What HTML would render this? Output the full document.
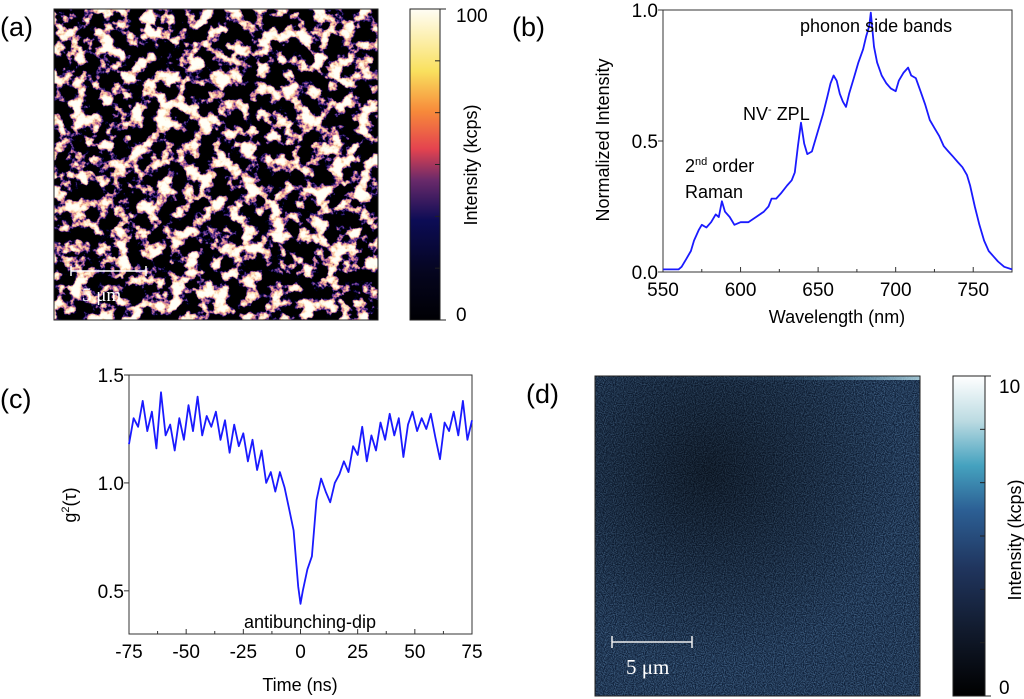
<!DOCTYPE html>
<html><head><meta charset="utf-8"><style>
body{margin:0;background:#fff;}
svg{display:block;font-family:"Liberation Sans",sans-serif;}
</style></head><body>
<svg width="1024" height="699" viewBox="0 0 1024 699">
<defs>
  <filter id="fa" x="0" y="0" width="100%" height="100%">
    <feTurbulence type="fractalNoise" baseFrequency="0.07" numOctaves="4" seed="7"/>
    <feColorMatrix type="matrix" values="1 0 0 0 0  1 0 0 0 0  1 0 0 0 0  0 0 0 0 1"/>
    <feComponentTransfer>
      <feFuncR type="linear" slope="4" intercept="-1.75"/>
      <feFuncG type="linear" slope="4" intercept="-1.75"/>
      <feFuncB type="linear" slope="4" intercept="-1.75"/>
    </feComponentTransfer>
    <feComponentTransfer>
      <feFuncR type="table" tableValues="0 0 0 0.08 0.55 0.9 0.98 1 1 1"/>
      <feFuncG type="table" tableValues="0 0 0 0.03 0.15 0.45 0.72 0.88 0.96 1"/>
      <feFuncB type="table" tableValues="0 0 0.03 0.28 0.3 0.3 0.45 0.7 0.85 0.93"/>
    </feComponentTransfer>
  </filter>
  <filter id="fd" x="0" y="0" width="100%" height="100%">
    <feTurbulence type="fractalNoise" baseFrequency="0.9" numOctaves="1" seed="3"/>
    <feColorMatrix type="matrix" values="0 0 0 0 0.15  0 0 0 0 0.33  0 0 0 0 0.58  1.3 0 0 0 -0.45"/>
  </filter>
  <linearGradient id="cba" x1="0" y1="1" x2="0" y2="0">
    <stop offset="0" stop-color="#000004"/>
    <stop offset="0.15" stop-color="#05051e"/>
    <stop offset="0.32" stop-color="#0c0c55"/>
    <stop offset="0.45" stop-color="#6a2a6a"/>
    <stop offset="0.55" stop-color="#e4434f"/>
    <stop offset="0.67" stop-color="#f7893a"/>
    <stop offset="0.8" stop-color="#f9e05e"/>
    <stop offset="1" stop-color="#fffdf5"/>
  </linearGradient>
  <linearGradient id="cbd" x1="0" y1="1" x2="0" y2="0">
    <stop offset="0" stop-color="#000000"/>
    <stop offset="0.2" stop-color="#111a2c"/>
    <stop offset="0.4" stop-color="#20355e"/>
    <stop offset="0.58" stop-color="#2c5f94"/>
    <stop offset="0.72" stop-color="#45a2bf"/>
    <stop offset="0.86" stop-color="#bcdbe2"/>
    <stop offset="1" stop-color="#ffffff"/>
  </linearGradient>
  <radialGradient id="dshade" cx="0.35" cy="0.3" r="0.6">
    <stop offset="0" stop-color="#000" stop-opacity="0.5"/>
    <stop offset="1" stop-color="#000" stop-opacity="0"/>
  </radialGradient>
  <linearGradient id="dtop" x1="0" y1="0" x2="1" y2="0">
    <stop offset="0" stop-color="#5aa9d0" stop-opacity="0"/>
    <stop offset="0.6" stop-color="#5aa9d0" stop-opacity="0.1"/>
    <stop offset="1" stop-color="#bfe6f0" stop-opacity="0.8"/>
  </linearGradient>
</defs>

<!-- Panel (a) -->
<text x="0" y="36" font-size="27">(a)</text>
<g>
  <rect x="54" y="9" width="324" height="311" fill="#000"/>
  <rect x="54" y="9" width="324" height="311" filter="url(#fa)"/>
  <rect x="54" y="9" width="324" height="311" fill="none" stroke="#222" stroke-width="1"/>
</g>
<g stroke="#fff" stroke-width="1.5">
  <line x1="71" y1="271" x2="146" y2="271"/><line x1="71" y1="266" x2="71" y2="276"/><line x1="146" y1="266" x2="146" y2="276"/>
</g>
<text x="82" y="301" font-size="19" fill="#fff" font-family="Liberation Serif,serif">5 μm</text>
<g>
  <rect x="410" y="9" width="30" height="311" fill="url(#cba)" stroke="#222" stroke-width="1"/>
</g>
<g id="cbaticks" stroke="#222" stroke-width="1"></g>
<text x="456" y="22" font-size="19">100</text>
<text x="456" y="321" font-size="19">0</text>
<text transform="translate(477,165) rotate(-90)" text-anchor="middle" font-size="18">Intensity (kcps)</text>

<!-- Panel (b) -->
<text x="512" y="36" font-size="27">(b)</text>
<g id="pb"></g>
<text transform="translate(609,140) rotate(-90)" text-anchor="middle" font-size="18">Normalized Intensity</text>
<text x="837" y="323" text-anchor="middle" font-size="18">Wavelength (nm)</text>
<text x="800" y="32" font-size="18">phonon side bands</text>
<text x="743" y="120" font-size="18">NV<tspan font-size="11" dy="-7">-</tspan><tspan dy="7"> ZPL</tspan></text>
<text x="685" y="172" font-size="18">2<tspan font-size="11" dy="-7">nd</tspan><tspan dy="7"> order</tspan></text>
<text x="685" y="198" font-size="18">Raman</text>

<!-- Panel (c) -->
<text x="0" y="408" font-size="27">(c)</text>
<g id="pc"></g>
<text transform="translate(76,505) rotate(-90)" text-anchor="middle" font-size="18">g<tspan font-size="11" dy="-7">2</tspan><tspan dy="7">(τ)</tspan></text>
<text x="300" y="691" text-anchor="middle" font-size="18">Time (ns)</text>
<text x="310" y="628" text-anchor="middle" font-size="18">antibunching-dip</text>

<!-- Panel (d) -->
<text x="526" y="403" font-size="27">(d)</text>
<g>
  <rect x="595" y="376" width="325" height="320" fill="#10213a"/>
  <rect x="595" y="376" width="325" height="320" filter="url(#fd)"/>
  <rect x="595" y="376" width="325" height="320" fill="url(#dshade)"/>
  <rect x="595" y="376" width="325" height="4" fill="url(#dtop)"/>
  <rect x="595" y="376" width="325" height="320" fill="none" stroke="#222" stroke-width="1"/>
</g>
<g stroke="#eee" stroke-width="1.5">
  <line x1="612" y1="642" x2="692" y2="642"/><line x1="612" y1="636" x2="612" y2="648"/><line x1="692" y1="636" x2="692" y2="648"/>
</g>
<text x="626" y="674" font-size="21" fill="#fff" font-family="Liberation Serif,serif">5 μm</text>
<g>
  <rect x="953" y="376" width="32" height="320" fill="url(#cbd)" stroke="#222" stroke-width="1"/>
</g>
<g id="cbdticks" stroke="#222" stroke-width="1"></g>
<text x="999" y="393" font-size="19">10</text>
<text x="999" y="694" font-size="19">0</text>
<text transform="translate(1021,540) rotate(-90)" text-anchor="middle" font-size="18">Intensity (kcps)</text>
</svg>
<script>
const specWl=[550,560,562,565,568,570,573,575,578,581,584,586,588,590,593,596,600,605,610,615,618,620,623,626,630,633,635,637,639,641,643,646,650,653,656,658,660,662,664,666,668,670,673,676,679,681,683,684,686,688,691,694,697,700,702,705,708,710,713,716,719,722,725,728,731,734,737,740,743,746,748,751,754,757,760,763,766,770,775];
const specI=[0.01,0.01,0.02,0.05,0.08,0.12,0.16,0.18,0.17,0.19,0.22,0.21,0.27,0.23,0.21,0.18,0.19,0.19,0.21,0.23,0.25,0.28,0.28,0.30,0.33,0.35,0.38,0.48,0.57,0.49,0.45,0.46,0.54,0.60,0.67,0.72,0.75,0.73,0.68,0.65,0.63,0.68,0.74,0.80,0.85,0.90,0.94,0.99,0.86,0.80,0.75,0.72,0.70,0.69,0.73,0.76,0.78,0.75,0.74,0.69,0.64,0.58,0.55,0.52,0.48,0.46,0.44,0.42,0.40,0.37,0.33,0.25,0.18,0.12,0.08,0.06,0.04,0.02,0.01];
const specXTicks=[550,600,650,700,750];
const specYTicks=[0,0.5,1];
const gT=[-75,-73,-71,-69,-67,-65,-63,-61,-59,-57,-55,-53,-51,-49,-47,-45,-43,-41,-39,-37,-35,-33,-31,-29,-27,-25,-23,-21,-19,-17,-15,-13,-11,-9,-7,-5,-3,-1,0,1,3,5,7,9,11,13,15,17,19,21,23,25,27,29,31,33,35,37,39,41,43,45,47,49,51,53,55,57,59,61,63,65,67,69,71,73,75];
const gVal=[1.18,1.30,1.26,1.38,1.24,1.33,1.16,1.42,1.22,1.27,1.15,1.30,1.20,1.36,1.24,1.40,1.22,1.31,1.26,1.33,1.20,1.29,1.14,1.27,1.17,1.23,1.10,1.20,1.06,1.15,1.00,1.05,0.96,1.05,0.98,0.88,0.78,0.52,0.44,0.50,0.60,0.66,0.92,1.02,0.96,0.91,1.00,1.04,1.10,1.05,1.17,1.13,1.26,1.10,1.22,1.15,1.28,1.20,1.32,1.22,1.30,1.12,1.27,1.33,1.24,1.30,1.25,1.32,1.21,1.11,1.28,1.24,1.33,1.22,1.38,1.20,1.29];
const gXTicks=[-75,-50,-25,0,25,50,75];
const gYTicks=[0.5,1.0,1.5];
const cbTicks=[0,1,2,3,4,5,6];

const NS='http://www.w3.org/2000/svg';
function mk(parent,tag,attrs){const e=document.createElementNS(NS,tag);for(const k in attrs)e.setAttribute(k,attrs[k]);parent.appendChild(e);return e;}

function drawPanel(g,x0,x1,y0,y1,xmin,xmax,ymin,ymax,xs,ys,xt,yt,minorX,fmtY,name){
  const X=v=>x0+(v-xmin)/(xmax-xmin)*(x1-x0);
  const Y=v=>y1-(v-ymin)/(ymax-ymin)*(y1-y0);
  const frame=mk(g,'rect',{x:x0,y:y0,width:x1-x0,height:y1-y0,fill:'none',stroke:'#333','stroke-width':1});
  
  
  for(let v=xmin;v<=xmax+1e-9;v+=minorX){
    const major=xt.some(t=>Math.abs(t-v)<1e-6);
    const l=mk(g,'line',{x1:X(v),x2:X(v),y1:y1,y2:y1-(major?5:3),stroke:'#333'});
    
    
  }
  xt.forEach(v=>{
    const t=mk(g,'text',{x:X(v),y:y1+24,'text-anchor':'middle','font-size':19});
    t.textContent=v;
    
    
  });
  yt.forEach(v=>{
    const l=mk(g,'line',{x1:x0-5,x2:x0,y1:Y(v),y2:Y(v),stroke:'#333'});
    
    
    const t=mk(g,'text',{x:x0-5,y:Y(v)+7,'text-anchor':'end','font-size':19});
    t.textContent=fmtY(v);
    
    
  });
  const d=xs.map((v,i)=>(i?'L':'M')+X(v).toFixed(1)+','+Y(ys[i]).toFixed(1)).join('');
  const p=mk(g,'path',{d:d,fill:'none',stroke:'#1a1aff','stroke-width':1.8,'stroke-linejoin':'round'});
  
  
}
drawPanel(document.getElementById('pb'),663,1012,10,272,550,775,0,1,specWl,specI,specXTicks,specYTicks,25,v=>v.toFixed(1),'spectrum');
drawPanel(document.getElementById('pc'),129,472,375,634,-75,75,0.3,1.5,gT,gVal,gXTicks,gYTicks,12.5,v=>v.toFixed(1),'g2');

function cbT(id,x,y0,y1,name){
  const g=document.getElementById(id);
  cbTicks.forEach(i=>{
    const y=y1-(y1-y0)*i/6;
    const l=mk(g,'line',{x1:x-5,x2:x+((i===0||i===6)?6:0),y1:y,y2:y});
    
    
  });
}
cbT('cbaticks',440,9,320,'colorbar-a');
cbT('cbdticks',985,376,696,'colorbar-d');
</script>
</body></html>
